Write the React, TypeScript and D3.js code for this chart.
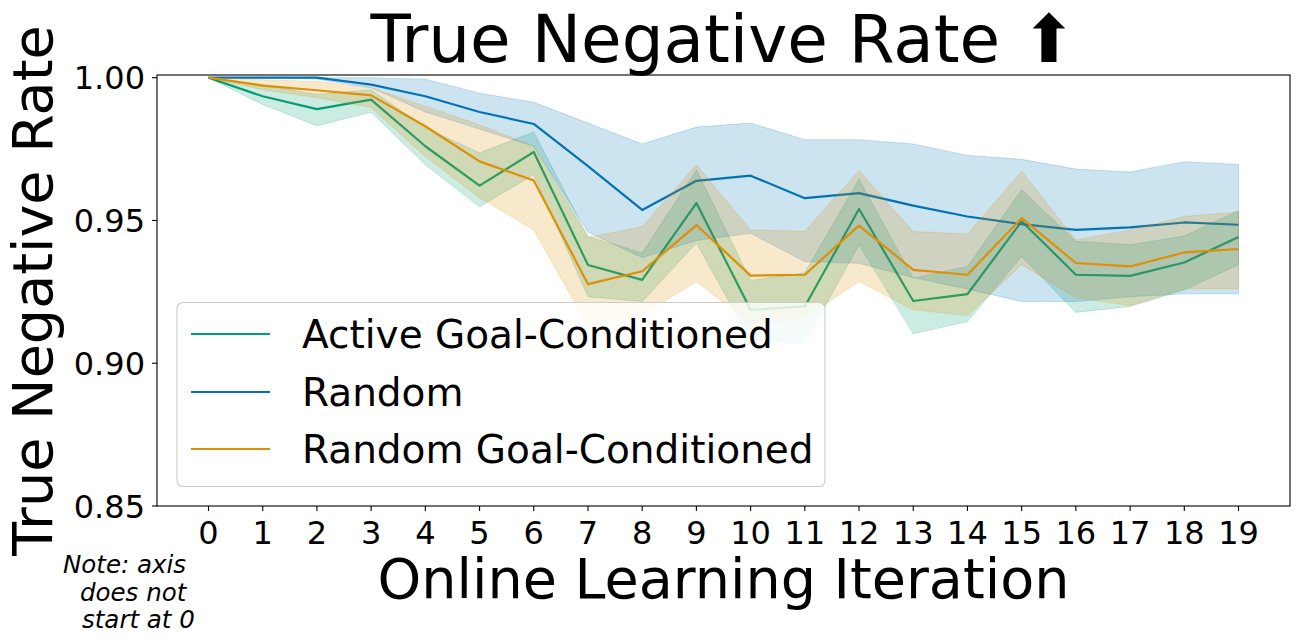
import React from "react";
import * as d3 from "d3";

const iterations = d3.range(0, 20);
const xTickLabels = iterations.map((d) => String(d));
const yTicks = [0.85, 0.9, 0.95, 1.0];

const seriesNames = ["Active Goal-Conditioned", "Random", "Random Goal-Conditioned"];
const seriesColors = ["#029e73", "#0173b2", "#de8f05"];

const activeMean = [1.0, 0.9935, 0.989, 0.9923, 0.976, 0.9622, 0.974, 0.9344, 0.9292, 0.9561, 0.9187, 0.9199, 0.954, 0.9218, 0.9242, 0.9497, 0.931, 0.9306, 0.9353, 0.9442];
const activeUpper = [1.0, 0.9976, 0.9941, 0.9958, 0.9825, 0.9737, 0.981, 0.9444, 0.9386, 0.9678, 0.929, 0.9317, 0.9645, 0.9298, 0.9339, 0.9608, 0.9427, 0.9415, 0.9446, 0.9534];
const activeLower = [1.0, 0.9906, 0.9832, 0.9879, 0.9695, 0.9548, 0.966, 0.9233, 0.9216, 0.9421, 0.908, 0.907, 0.9415, 0.9103, 0.9146, 0.9374, 0.9178, 0.9199, 0.9257, 0.9345];

const randomMean = [1.0, 1.0, 1.0, 0.9976, 0.9935, 0.988, 0.9838, 0.969, 0.9537, 0.9639, 0.9657, 0.9578, 0.9596, 0.9552, 0.9514, 0.9487, 0.9467, 0.9476, 0.9493, 0.9485];
const randomUpper = [1.0, 1.0, 1.0, 1.0, 0.9995, 0.9946, 0.9914, 0.9841, 0.9768, 0.9827, 0.9841, 0.9783, 0.9783, 0.9768, 0.9728, 0.9714, 0.968, 0.967, 0.9706, 0.9696];
const randomLower = [1.0, 1.0, 0.9995, 0.9965, 0.988, 0.982, 0.976, 0.946, 0.937, 0.943, 0.9455, 0.9356, 0.935, 0.93, 0.926, 0.9216, 0.9216, 0.9233, 0.9243, 0.9243];

const randomGCMean = [1.0, 0.9972, 0.9956, 0.9938, 0.983, 0.9707, 0.964, 0.9277, 0.9322, 0.9484, 0.9307, 0.931, 0.9482, 0.9327, 0.931, 0.9508, 0.9351, 0.9339, 0.9388, 0.94];
const randomGCUpper = [1.0, 0.9993, 0.9987, 0.9965, 0.99, 0.9835, 0.976, 0.944, 0.9479, 0.9695, 0.9467, 0.9462, 0.9675, 0.9461, 0.9453, 0.9672, 0.9432, 0.9467, 0.9514, 0.953];
const randomGCLower = [1.0, 0.9958, 0.993, 0.9896, 0.9724, 0.958, 0.9467, 0.913, 0.917, 0.9286, 0.914, 0.9159, 0.9286, 0.9187, 0.9167, 0.9345, 0.9229, 0.9202, 0.926, 0.926];

const means = [activeMean, randomMean, randomGCMean];
const uppers = [activeUpper, randomUpper, randomGCUpper];
const lowers = [activeLower, randomLower, randomGCLower];

const W = 1299;
const H = 644;
const plotLeft = 157;
const plotRight = 1290;
const plotTop = 75;
const plotBottom = 506;
const FONT = "'DejaVu Sans', sans-serif";

export default function App() {
  const x = d3.scaleLinear().domain([-0.95, 19.95]).range([plotLeft, plotRight]);
  const y = d3.scaleLinear().domain([0.85, 1.00095]).range([plotBottom, plotTop]);

  const idx = iterations.map((_, i) => i);
  const area = (lo: number[], hi: number[]) =>
    d3
      .area<number>()
      .x((i) => x(iterations[i]))
      .y0((i) => y(lo[i]))
      .y1((i) => y(hi[i]))(idx) || "";
  const line = (vals: number[]) =>
    d3
      .line<number>()
      .x((i) => x(iterations[i]))
      .y((i) => y(vals[i]))(idx) || "";

  const legendX = 177;
  const legendY = 302.5;
  const legendW = 648;
  const legendH = 184;
  const rowYs = [334, 392, 449];

  return (
    <svg
      width={W}
      height={H}
      style={{ position: "absolute", left: 0, top: 0, display: "block", background: "#fff" }}
      fontFamily={FONT}
    >
      <rect x={0} y={0} width={W} height={H} fill="#fff" />
      <defs>
        <clipPath id="plotclip">
          <rect x={plotLeft} y={plotTop} width={plotRight - plotLeft} height={plotBottom - plotTop} />
        </clipPath>
      </defs>
      <g clipPath="url(#plotclip)">
        {means.map((m, k) => (
          <g key={k}>
            <path
              d={area(lowers[k], uppers[k])}
              fill={seriesColors[k]}
              fillOpacity={0.2}
              stroke={seriesColors[k]}
              strokeOpacity={0.2}
              strokeWidth={1}
            />
            <path d={line(m)} fill="none" stroke={seriesColors[k]} strokeWidth={2.2} strokeLinejoin="round" />
          </g>
        ))}
      </g>
      <rect
        x={plotLeft}
        y={plotTop}
        width={plotRight - plotLeft}
        height={plotBottom - plotTop}
        fill="none"
        stroke="#000"
        strokeWidth={1.1}
      />
      {yTicks.map((t) => (
        <g key={t}>
          <line x1={plotLeft - 5} x2={plotLeft} y1={y(t)} y2={y(t)} stroke="#000" strokeWidth={1.1} />
          <text x={plotLeft - 12} y={y(t)} dy="0.36em" textAnchor="end" fontSize={32} fill="#000">
            {d3.format(".2f")(t)}
          </text>
        </g>
      ))}
      {iterations.map((t, i) => (
        <g key={t}>
          <line x1={x(t)} x2={x(t)} y1={plotBottom} y2={plotBottom + 5} stroke="#000" strokeWidth={1.1} />
          <text x={x(t)} y={544} textAnchor="middle" fontSize={32} fill="#000">
            {xTickLabels[i]}
          </text>
        </g>
      ))}
      <text x={(plotLeft + plotRight) / 2} y={62} textAnchor="middle" fontSize={66} fill="#000">
        True Negative Rate ⬆
      </text>
      <text x={(plotLeft + plotRight) / 2} y={598} textAnchor="middle" fontSize={55.6} fill="#000">
        Online Learning Iteration
      </text>
      <text
        transform={`translate(52, ${(plotTop + plotBottom) / 2}) rotate(-90)`}
        textAnchor="middle"
        fontSize={55.6}
        fill="#000"
      >
        True Negative Rate
      </text>
      <g fontStyle="italic" fontSize={24.5} fill="#000">
        <text x={63} y={573}>Note: axis</text>
        <text x={80} y={600.5}>does not</text>
        <text x={82} y={628}>start at 0</text>
      </g>
      <g>
        <rect
          x={legendX}
          y={legendY}
          width={legendW}
          height={legendH}
          rx={6}
          ry={6}
          fill="#fff"
          fillOpacity={0.8}
          stroke="#cccccc"
          strokeWidth={1.1}
        />
        {seriesNames.map((name, k) => (
          <g key={name}>
            <line x1={191} x2={270} y1={rowYs[k]} y2={rowYs[k]} stroke={seriesColors[k]} strokeWidth={2.2} />
            <text x={302} y={rowYs[k]} dy="0.36em" fontSize={39} fill="#000">
              {name}
            </text>
          </g>
        ))}
      </g>
    </svg>
  );
}
